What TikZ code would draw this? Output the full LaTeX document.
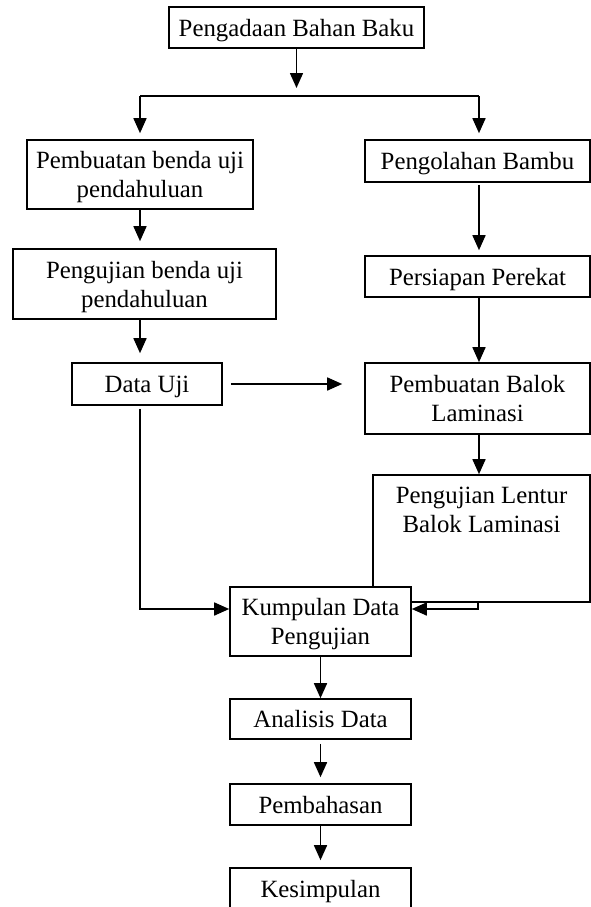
\documentclass[tikz,border=0pt]{standalone}
\usepackage{fontspec}
\setmainfont{Liberation Serif}
\usetikzlibrary{calc,arrows.meta}

\begin{document}
\begin{tikzpicture}[x=1pt, y=-1pt,
    box/.style={draw, line width=1.6pt, fill=white, inner sep=0pt, align=center,
        text depth=0pt, minimum height=41pt, font=\fontsize{24.8}{29}\selectfont},
    flow/.style={line width=1.6pt, -{Triangle[width=13pt,length=15pt]}},
    line/.style={line width=1.6pt}]
    % Page
    \path[use as bounding box, fill=white] (0,0) rectangle (591,907);
    % Boxes
    \node[box, minimum width=255pt] (bahan) at (296.5,27.5) {Pengadaan Bahan Baku};
    \node[box, minimum width=226pt, minimum height=69pt] (benda1) at (140,174.5) {Pembuatan benda uji\\pendahuluan};
    \node[box, minimum width=225pt, minimum height=42pt] (bambu) at (477.5,161) {Pengolahan Bambu};
    \node[box, minimum width=263pt, minimum height=70pt] (benda2) at (144.5,284) {Pengujian benda uji\\pendahuluan};
    \node[box, minimum width=225pt] (perekat) at (477.5,276.5) {Persiapan Perekat};
    \node[box, minimum width=150pt, minimum height=42pt] (datauji) at (147,384) {Data Uji};
    \node[box, minimum width=225pt, minimum height=71pt] (balok) at (477.5,398.5) {Pembuatan Balok\\Laminasi};
    \node[box, minimum width=217pt, minimum height=127pt] (lentur) at (481.5,538.5) {};
    \node[box, draw=none, fill=none, anchor=north, minimum height=0pt] (lenturtxt) at ([yshift=-12pt]lentur.north) {Pengujian Lentur\\Balok Laminasi};
    \node[box, minimum width=181pt, minimum height=69pt] (kumpulan) at (320.5,621.5) {Kumpulan Data\\Pengujian};
    \node[box, minimum width=181pt, minimum height=40pt] (analisis) at (320.5,719) {Analisis Data};
    \node[box, minimum width=181pt] (bahas) at (320.5,804.5) {Pembahasan};
    \node[box, minimum width=181pt] (simpul) at (320.5,888.5) {Kesimpulan};
    % Branch from the top box
    \coordinate (forkL) at (140,96);
    \coordinate (forkR) at (479,96);
    \draw[flow, shorten >=8pt] (bahan) -- (bahan |- forkL);
    \draw[line] (forkL) -- (forkR);
    \draw[flow, shorten >=6pt] (forkL) -- (forkL |- benda1.north);
    \draw[flow, shorten >=6pt] (forkR) -- (forkR |- bambu.north);
    % Left column
    \draw[flow, shorten >=7pt] (benda1) -- (benda1 |- benda2.north);
    \draw[flow, shorten >=9pt] (benda1 |- benda2.south) -- (benda1 |- datauji.north);
    % Right column
    \draw[flow, shorten <=2pt, shorten >=5pt] (forkR |- bambu.south) -- (forkR |- perekat.north);
    \draw[flow] (forkR |- perekat.south) -- (forkR |- balok.north);
    \draw[flow] (forkR |- balok.south) -- (forkR |- lentur.north);
    % Data Uji to the beam
    \draw[flow, shorten <=8pt, shorten >=22pt] (datauji.east) -- (datauji.east -| balok.west);
    % Into the data collection
    \coordinate (belokL) at (140,609);
    \coordinate (belokR) at (478,609);
    \draw[flow, shorten <=3pt] (belokL |- datauji.south) -- (belokL) -- (kumpulan.west |- belokL);
    \draw[flow] (belokR |- lentur.south) -- (belokR) -- (kumpulan.east |- belokR);
    % Bottom column
    \draw[flow] (kumpulan) -- (analisis);
    \draw[flow, shorten <=4pt, shorten >=6pt] (analisis) -- (bahas);
    \draw[flow, shorten >=7pt] (bahas) -- (simpul);
\end{tikzpicture}
\end{document}
